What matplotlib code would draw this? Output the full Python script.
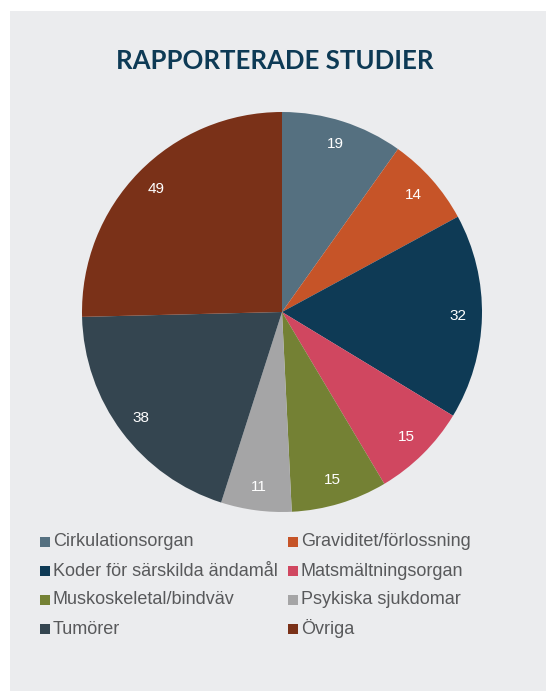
import matplotlib
matplotlib.use('Agg')
import matplotlib.pyplot as plt
from matplotlib.patches import Rectangle

# Data
categories = ['Cirkulationsorgan', 'Graviditet/förlossning', 'Koder för särskilda ändamål',
              'Matsmältningsorgan', 'Muskoskeletal/bindväv', 'Psykiska sjukdomar',
              'Tumörer', 'Övriga']
counts = [19, 14, 32, 15, 15, 11, 38, 49]
colors = ['#557080', '#c65428', '#0e3a55', '#d04760', '#748134', '#a5a5a6', '#344550', '#7a3118']

W, H = 546, 691
fig = plt.figure(figsize=(W / 100, H / 100), dpi=100)
fig.patch.set_facecolor('white')

# grey panel
fig.add_artist(Rectangle((10 / W, 0), (W - 10) / W, (H - 11) / H,
                         transform=fig.transFigure, facecolor='#ebecee', edgecolor='none', zorder=0))

fig.text(275 / W, 1 - 61 / H, 'RAPPORTERADE STUDIER', ha='center', va='center',
         fontsize=18.5, fontweight='bold', color='#0d3a55', family='Lato')

# pie: centre (282, 312), radius 200 px
cx, cy, r = 282, 312, 200
ax = fig.add_axes([(cx - r) / W, 1 - (cy + r) / H, 2 * r / W, 2 * r / H])
wedges, texts = ax.pie(counts, colors=colors, startangle=90, counterclock=False,
                       labels=[str(c) for c in counts], labeldistance=0.88,
                       wedgeprops=dict(linewidth=0))
for t in texts:
    t.set_color('white')
    t.set_fontsize(11)
    t.set_family('Liberation Sans')
    t.set_ha('center')
    t.set_va('center')
ax.set_xlim(-1, 1)
ax.set_ylim(-1, 1)
ax.set_aspect('equal')
ax.axis('off')

# legend, two columns, row-major
col_x = [40, 288]
row_y = [542, 571, 600, 629]
for i, (name, col) in enumerate(zip(categories, colors)):
    x = col_x[i % 2]
    y = row_y[i // 2]
    fig.add_artist(Rectangle((x / W, 1 - (y + 5) / H), 10 / W, 10 / H,
                             transform=fig.transFigure, facecolor=col, edgecolor='none'))
    fig.text((x + 13) / W, 1 - y / H, name, ha='left', va='center', fontsize=13,
             color='#58595b', family='Liberation Sans')

fig.savefig('out.png', dpi=100)
